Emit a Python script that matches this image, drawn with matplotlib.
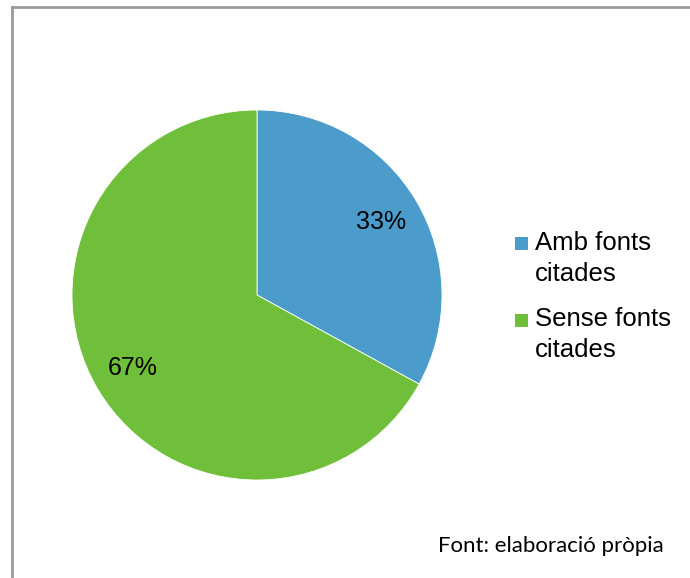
import matplotlib
matplotlib.use("Agg")
import matplotlib.pyplot as plt
from matplotlib.patches import Rectangle
from matplotlib.lines import Line2D

labels = ["Amb fonts\ncitades", "Sense fonts\ncitades"]
values = [33, 67]
colors = ["#4B9CCB", "#70BF3B"]
source_note = "Font: elaboració pròpia"

W, H = 690, 578
fig = plt.figure(figsize=(W / 100, H / 100), dpi=100)

# outer frame (only top and left edges visible in the reference)
fig.add_artist(Line2D([12 / W, 12 / W], [0, 1 - 7 / H], color="#9a9a9a", lw=2.0))
fig.add_artist(Line2D([12 / W, 1], [1 - 7 / H, 1 - 7 / H], color="#9a9a9a", lw=2.0))

# pie, centre (257, 295) px, radius 185 px
cx, cy, r = 257, 295, 185
ax = fig.add_axes([(cx - r) / W, (H - cy - r) / H, 2 * r / W, 2 * r / H])
wedges, texts, autotexts = ax.pie(values, colors=colors, startangle=90, counterclock=False,
                                  autopct="%1.0f%%", pctdistance=0.78, radius=1.0,
                                  wedgeprops=dict(edgecolor="white", linewidth=0.6),
                                  textprops=dict(fontsize=18, family="Liberation Sans", color="black"))
ax.set_xlim(-1, 1)
ax.set_ylim(-1, 1)
ax.set_aspect("equal")
ax.axis("off")

# legend, drawn by hand to match the layout
leg_y = [244, 320]
for lab, col, y in zip(labels, colors, leg_y):
    fig.add_artist(Rectangle((515 / W, 1 - (y + 6.5) / H), 13 / W, 13 / H,
                             facecolor=col, edgecolor="none", transform=fig.transFigure))
    fig.text(535 / W, 1 - (y - 13.5) / H, lab, fontsize=18.5, family="Liberation Sans",
             va="top", ha="left", linespacing=1.38)

fig.text(438 / W, 1 - 552 / H, source_note, fontsize=16, family="Lato",
         va="baseline", ha="left")

fig.savefig("out.png", dpi=100)
